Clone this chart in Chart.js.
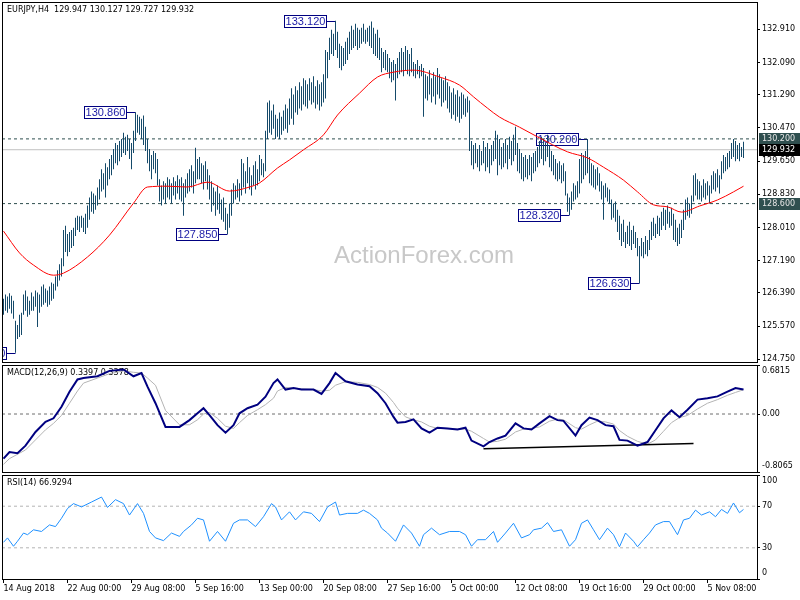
<!DOCTYPE html>
<html>
<head>
<meta charset="utf-8">
<script src="https://cdn.jsdelivr.net/npm/chart.js@4.4.1/dist/chart.umd.min.js"></script>
<style>
  body { margin: 0; background: #fff; }
  #wrap { position: relative; width: 800px; height: 600px; }
  canvas { position: absolute; left: 0; }
</style>
</head>
<body>
<div id="wrap">
  <canvas id="price" width="800" height="364" style="top:0px"></canvas>
  <canvas id="macd" width="800" height="110" style="top:364px"></canvas>
  <canvas id="rsi" width="800" height="127" style="top:473px"></canvas>
</div>
<script>
const symbolCaption = 'EURJPY,H4  129.947 130.127 129.727 129.932';
const macdCaption = 'MACD(12,26,9) 0.3397 0.3378';
const rsiCaption = 'RSI(14) 66.9294';

// H4 bars, one per 4 hours
const barHigh = [
  126.25, 126.35, 126.30, 126.38, 126.32, 126.20, 125.70, 125.60, 125.85, 125.90,
  126.35, 126.45, 126.30, 126.20, 126.40, 126.30, 126.45, 126.40, 126.35, 126.55,
  126.60, 126.50, 126.45, 126.55, 126.65, 126.62, 126.80, 126.95, 127.10, 127.25,
  127.95, 128.05, 127.85, 127.90, 127.95, 128.00, 128.25, 128.30, 128.28, 128.30,
  128.25, 128.35, 128.55, 128.75, 128.90, 128.85, 128.80, 129.00, 129.20, 129.45,
  129.35, 129.60, 129.50, 129.70, 129.80, 129.95, 130.10, 130.05, 130.15, 130.20,
  130.35, 130.25, 130.30, 130.20, 130.10, 130.40, 130.86, 130.80, 130.75, 130.70,
  130.78, 130.50, 130.20, 129.95, 129.80, 129.90, 129.85, 129.70, 129.20, 129.05,
  129.15, 129.10, 129.25, 129.20, 129.10, 129.25, 129.15, 129.30, 129.20, 129.25,
  129.10, 129.20, 129.35, 129.45, 129.55, 129.40, 129.98, 129.70, 129.75, 129.60,
  129.55, 129.65, 129.45, 129.30, 129.15, 129.00, 128.90, 129.05, 128.85, 128.70,
  128.75, 128.50, 128.35, 128.60, 128.95, 129.10, 129.05, 129.20, 129.10, 129.70,
  129.60, 129.40, 129.75, 129.50, 129.30, 129.55, 129.65, 129.45, 129.80, 129.70,
  129.60, 130.40, 131.10, 131.15, 130.90, 131.05, 130.80, 130.70, 130.85, 130.75,
  130.90, 131.05, 130.95, 131.20, 131.45, 131.30, 131.50, 131.40, 131.60, 131.50,
  131.70, 131.65, 131.55, 131.70, 131.60, 131.75, 131.50, 131.65, 131.55, 131.60,
  131.80, 132.40, 132.35, 132.70, 132.90, 132.80, 133.12, 132.85, 132.55, 132.50,
  132.45, 132.60, 132.70, 132.85, 133.00, 132.90, 133.05, 132.95, 132.90, 132.95,
  133.05, 132.90, 132.95, 133.00, 133.10, 132.95, 132.80, 132.90, 132.70, 132.45,
  132.35, 132.40, 132.30, 132.20, 132.10, 132.15, 132.05, 132.20, 132.35, 132.45,
  132.35, 132.50, 132.40, 132.30, 132.45, 132.10, 132.05, 132.15, 132.00, 132.05,
  131.95, 131.80, 131.75, 131.90, 131.70, 131.85, 131.75, 131.95, 131.80, 131.70,
  131.65, 131.75, 131.60, 131.50, 131.35, 131.45, 131.30, 131.40, 131.25, 131.35,
  131.30, 131.20, 131.25, 131.15, 130.15, 130.05, 130.10, 129.95, 130.05, 129.90,
  130.15, 130.00, 130.10, 129.95, 130.05, 130.15, 130.40, 130.30, 130.20, 130.00,
  130.10, 130.20, 130.05, 130.25, 130.15, 130.30, 130.50, 130.10, 129.95, 129.85,
  129.75, 129.80, 129.70, 129.80, 129.75, 129.85, 129.90, 130.00, 130.15, 130.25,
  130.20, 130.10, 130.30, 130.05, 129.90, 129.80, 129.70, 129.60, 129.65, 129.55,
  129.60, 129.40, 128.85, 128.75, 128.90, 129.10, 129.05, 129.15, 129.70, 129.85,
  129.80, 129.90, 130.20, 129.75, 129.60, 129.55, 129.45, 129.50, 129.35, 129.15,
  129.05, 129.10, 129.00, 128.95, 128.70, 128.60, 128.65, 128.45, 128.30, 128.10,
  128.20, 127.90, 128.05, 128.15, 127.95, 128.05, 127.90, 127.75, 127.55, 127.75,
  127.65, 127.80, 127.70, 127.95, 128.15, 128.25, 128.10, 128.30, 128.25, 128.40,
  128.50, 128.45, 128.55, 128.40, 128.50, 128.35, 128.20, 128.00, 128.10, 128.20,
  128.45, 128.70, 128.75, 128.60, 128.80, 129.30, 129.35, 129.20, 129.15, 129.05,
  129.20, 129.10, 129.15, 129.05, 129.30, 129.40, 129.35, 129.45, 129.30, 129.65,
  129.80, 129.75, 129.85, 129.90, 130.10, 130.20, 130.15, 130.05, 130.10, 130.00,
  130.13
];
const barLow = [
  125.85, 125.95, 125.90, 126.00, 125.88, 125.75, 124.91, 125.25, 125.30, 125.35,
  125.85, 125.95, 125.80, 125.85, 125.95, 125.95, 126.05, 125.55, 125.90, 126.05,
  126.10, 126.15, 126.05, 126.10, 126.20, 126.25, 126.45, 126.55, 126.70, 126.80,
  127.05, 127.40, 127.30, 127.40, 127.50, 127.55, 127.80, 127.95, 127.90, 128.00,
  127.90, 127.85, 128.00, 128.20, 128.40, 128.35, 128.45, 128.55, 128.70, 128.90,
  128.95, 128.75, 129.05, 129.20, 129.30, 129.45, 129.60, 129.55, 129.65, 129.75,
  129.85, 129.80, 129.90, 129.70, 129.45, 129.85, 130.15, 130.35, 130.30, 130.20,
  130.05, 129.90, 129.60, 129.40, 129.20, 129.45, 129.35, 129.05, 128.65, 128.55,
  128.70, 128.60, 128.75, 128.70, 128.60, 128.80, 128.70, 128.85, 128.70, 128.65,
  128.30, 128.75, 128.85, 128.90, 129.00, 128.85, 129.10, 129.20, 129.20, 129.10,
  128.95, 129.15, 128.95, 128.70, 128.40, 128.55, 128.30, 128.45, 128.35, 128.20,
  128.15, 127.95, 127.85, 128.00, 128.30, 128.60, 128.70, 128.75, 128.65, 128.80,
  129.00, 128.85, 129.10, 128.95, 128.80, 129.05, 128.95, 129.05, 129.15, 129.30,
  129.25, 129.40, 130.20, 130.35, 130.30, 130.45, 130.20, 130.25, 130.20, 130.30,
  130.40, 130.45, 130.35, 130.55, 130.70, 130.55, 130.85, 130.80, 130.95, 130.90,
  131.05, 131.00, 130.95, 131.15, 131.05, 131.10, 130.95, 131.05, 130.90, 131.00,
  131.10, 131.20, 131.70, 132.15, 132.30, 132.25, 132.40, 132.20, 131.95, 131.90,
  132.00, 132.05, 132.15, 132.30, 132.40, 132.45, 132.50, 132.40, 132.45, 132.55,
  132.60, 132.55, 132.60, 132.50, 132.45, 132.30, 132.25, 132.20, 132.15, 131.85,
  131.95, 131.90, 131.85, 131.70, 131.60, 131.65, 131.15, 131.70, 131.80, 131.85,
  131.75, 131.90, 131.80, 131.75, 131.85, 131.75, 131.70, 131.80, 131.70, 131.75,
  130.75, 131.20, 131.15, 131.30, 131.10, 131.25, 131.05, 131.30, 131.20, 131.00,
  131.10, 131.15, 130.95, 130.85, 130.70, 130.80, 130.65, 130.75, 130.60, 130.70,
  130.80, 130.75, 130.85, 129.90, 129.55, 129.45, 129.60, 129.50, 129.40, 129.55,
  129.60, 129.40, 129.50, 129.35, 129.55, 129.65, 129.70, 129.30, 129.55, 129.45,
  129.50, 129.60, 129.45, 129.70, 129.55, 129.65, 129.80, 129.40, 129.35, 129.20,
  129.15, 129.25, 129.20, 129.30, 129.15, 129.35, 129.40, 129.50, 129.60, 129.70,
  129.55, 129.65, 129.75, 129.50, 129.40, 129.30, 129.20, 129.15, 129.20, 129.10,
  129.15, 128.80, 128.40, 128.32, 128.45, 128.65, 128.70, 128.75, 128.85, 129.10,
  129.20, 129.30, 129.35, 129.10, 129.05, 129.00, 128.95, 129.05, 128.90, 128.70,
  128.20, 128.75, 128.65, 128.60, 128.20, 128.25, 128.15, 127.90, 127.70, 127.55,
  127.65, 127.50, 127.60, 127.55, 127.45, 127.60, 127.50, 127.30, 126.63, 127.30,
  127.25, 127.35, 127.30, 127.45, 127.70, 127.80, 127.75, 127.85, 127.80, 127.95,
  128.05, 127.95, 128.10, 128.00, 128.05, 127.70, 127.65, 127.55, 127.60, 127.75,
  127.95, 128.20, 128.30, 128.25, 128.35, 128.65, 128.80, 128.70, 128.70, 128.65,
  128.75, 128.70, 128.80, 128.60, 128.85, 128.95, 128.90, 129.00, 128.85, 129.20,
  129.35, 129.40, 129.45, 129.50, 129.70, 129.75, 129.65, 129.70, 129.65, 129.75,
  129.73
];

// red moving average, sampled at bar numbers
const maBar = [0, 8, 15, 25, 30, 42, 53, 65, 72, 82, 92, 102, 113, 123, 128, 137, 143, 150, 160, 167,
  178, 187, 195, 205, 218, 228, 235, 242, 248, 258, 267, 282, 292, 300, 310, 317, 325, 332, 339, 348,
  357, 365, 370];
const maValue = [127.92, 127.38, 127.08, 126.83, 126.88, 127.28, 127.82, 128.61, 129.01, 129.03,
  129.01, 129.13, 128.91, 129.01, 129.11, 129.48, 129.68, 129.93, 130.30, 130.79,
  131.33, 131.73, 131.85, 131.90, 131.73, 131.53, 131.24, 130.96, 130.74, 130.49,
  130.25, 129.88, 129.73, 129.50, 129.18, 128.89, 128.57, 128.52, 128.39, 128.54,
  128.69, 128.89, 129.03];

const macdBar = [0, 3, 7, 11, 16, 21, 25, 29, 33, 37, 40, 47, 53, 60, 65, 69, 72, 76, 81, 88,
  93, 97, 100, 103, 107, 111, 115, 118, 122, 127, 131, 135, 137, 141, 145, 149, 155, 159, 163, 166,
  171, 177, 183, 187, 191, 195, 197, 201, 205, 209, 213, 217, 222, 227, 231, 234, 240, 243, 247, 251,
  256, 260, 264, 268, 273, 277, 280, 286, 289, 293, 297, 301, 305, 308, 312, 317, 322, 326, 330, 334,
  338, 342, 347, 352, 357, 362, 366, 370];
const macdMain = [-0.62, -0.53, -0.545, -0.44, -0.25, -0.11, -0.06, 0.10, 0.31, 0.48,
  0.50, 0.525, 0.60, 0.62, 0.525, 0.57, 0.38, 0.15, -0.18, -0.18,
  -0.085, 0.01, 0.08, -0.015, -0.155, -0.26, -0.155, 0.01, 0.08, 0.13,
  0.24, 0.43, 0.48, 0.34, 0.36, 0.34, 0.34, 0.28, 0.43, 0.57,
  0.455, 0.41, 0.385, 0.29, 0.15, -0.04, -0.12, -0.11, -0.075, -0.20,
  -0.26, -0.19, -0.20, -0.215, -0.19, -0.37, -0.45, -0.39, -0.34, -0.30,
  -0.13, -0.20, -0.215, -0.13, -0.03, -0.085, -0.095, -0.30, -0.155, -0.05,
  -0.085, -0.155, -0.17, -0.36, -0.37, -0.44, -0.39, -0.225, -0.06, 0.05,
  -0.045, 0.06, 0.20, 0.22, 0.245, 0.31, 0.36, 0.3397];
const macdSignal = [-0.70, -0.62, -0.56, -0.50, -0.36, -0.22, -0.13, -0.02, 0.15, 0.32,
  0.43, 0.50, 0.56, 0.60, 0.58, 0.57, 0.50, 0.40, 0.05, -0.15,
  -0.15, -0.08, 0.00, 0.02, -0.06, -0.17, -0.20, -0.12, -0.02, 0.06,
  0.13, 0.22, 0.32, 0.37, 0.36, 0.35, 0.34, 0.32, 0.33, 0.40,
  0.45, 0.44, 0.41, 0.37, 0.29, 0.16, 0.08, -0.04, -0.08, -0.11,
  -0.17, -0.20, -0.20, -0.21, -0.21, -0.24, -0.34, -0.39, -0.38, -0.35,
  -0.25, -0.21, -0.20, -0.18, -0.10, -0.07, -0.08, -0.19, -0.21, -0.15,
  -0.10, -0.11, -0.14, -0.23, -0.31, -0.38, -0.42, -0.36, -0.24, -0.12,
  -0.05, -0.02, 0.07, 0.15, 0.20, 0.26, 0.30, 0.3378];
const macdTrendBar = [240, 345];
const macdTrendValue = [-0.483, -0.41];

const rsiBar = [0, 2, 5, 7, 10, 12, 15, 19, 23, 26, 29, 32, 35, 39, 44, 49, 52, 56, 60, 63,
  67, 70, 73, 76, 80, 84, 88, 90, 94, 97, 100, 103, 107, 111, 115, 118, 122, 126, 130, 134,
  136, 139, 143, 146, 150, 154, 158, 162, 166, 168, 172, 177, 180, 183, 187, 189, 192, 196, 200, 204,
  208, 210, 214, 218, 223, 228, 231, 234, 237, 241, 245, 247, 251, 255, 259, 263, 265, 269, 272, 275,
  279, 283, 286, 289, 292, 295, 298, 302, 305, 308, 311, 315, 317, 320, 323, 326, 330, 333, 337, 340,
  343, 346, 349, 353, 356, 359, 362, 365, 368, 370];
const rsiValue = [35.3, 39.5, 31.5, 36.3, 44.2, 42.6, 47.3, 45.7, 52.0, 50.4,
  58.4, 67.8, 72.5, 69.3, 74.0, 78.8, 68.8, 76.3, 72.5, 61.5,
  72.5, 63.1, 45.7, 39.5, 36.9, 44.2, 41.0, 45.7, 52.0, 58.4,
  56.8, 36.3, 45.7, 36.3, 53.6, 56.8, 56.8, 50.4, 59.9, 72.5,
  69.3, 56.8, 64.6, 56.8, 64.6, 63.1, 55.2, 69.3, 74.0, 61.5,
  63.1, 63.1, 66.2, 63.1, 56.8, 48.9, 44.2, 36.3, 52.0, 44.2,
  31.5, 42.6, 48.9, 42.6, 45.7, 45.7, 42.6, 31.5, 37.8, 37.8,
  45.7, 35.3, 44.2, 53.6, 39.5, 42.6, 47.3, 48.9, 54.2, 45.7,
  47.3, 31.5, 37.8, 53.6, 56.8, 47.3, 37.8, 48.9, 42.6, 31.0,
  44.2, 36.3, 31.0, 37.8, 44.2, 52.0, 55.2, 55.2, 42.6, 56.8,
  58.4, 66.2, 61.5, 64.6, 59.9, 66.9, 63.1, 73.1, 63.7, 66.93];
const rsiLevels = [70, 30];

const priceTicks = [132.910, 132.090, 131.290, 130.470, 129.650, 128.830, 128.010, 127.190, 126.390, 125.570, 124.750];
const dashedLevels = [130.200, 128.600];
const lastPrice = 129.932;

const labelBar = [6, 66, 112, 166, 283, 292, 318];
const labelPrice = [124.910, 130.860, 127.850, 133.120, 128.320, 130.200, 126.630];

const timeTickBar = [0, 32, 64, 96, 128, 160, 192, 224, 256, 288, 320, 352];
const timeTickText = ['14 Aug 2018', '22 Aug 00:00', '29 Aug 08:00', '5 Sep 16:00', '13 Sep 00:00', '20 Sep 08:00',
  '27 Sep 16:00', '5 Oct 00:00', '12 Oct 08:00', '19 Oct 16:00', '29 Oct 00:00', '5 Nov 08:00'];

const X_MIN = -0.75;
const X_MAX = 376.75;

Chart.defaults.font.family = '"DejaVu Sans", sans-serif';
Chart.defaults.font.size = 8;
Chart.defaults.color = '#000';
Chart.defaults.animation = false;

function points(xs, ys) {
  return xs.map((x, i) => ({ x: x, y: ys[i] }));
}
function flat(v) {
  return [{ x: X_MIN, y: v }, { x: X_MAX, y: v }];
}

function timeAxis(show) {
  return {
    type: 'linear', min: X_MIN, max: X_MAX, display: show, offset: false,
    afterBuildTicks: s => { s.ticks = timeTickBar.map(v => ({ value: v })); },
    afterFit: s => {
      s.height = show ? 21 : 0;
      s.paddingLeft = 0;
      s.paddingRight = 0;
    },
    grid: { drawOnChartArea: false, drawTicks: true, tickLength: 4, color: '#000' },
    border: { display: false },
    ticks: {
      autoSkip: false, maxRotation: 0, align: 'start', padding: 1,
      callback: v => timeTickText[timeTickBar.indexOf(v)]
    }
  };
}

function valueAxis(min, max, tickValues, fmt) {
  return {
    type: 'linear', position: 'right', min: min, max: max,
    afterBuildTicks: s => { s.ticks = tickValues.map(v => ({ value: v })); },
    afterFit: s => { s.width = 43; s.paddingTop = 0; s.paddingBottom = 0; },
    grid: { drawOnChartArea: false, drawTicks: true, tickLength: 3, color: '#000' },
    border: { display: false },
    ticks: { autoSkip: false, padding: 2, font: { lineHeight: 1.6 }, callback: fmt }
  };
}

// MT4 puts the top and bottom labels inside the window
function edgeFormat(min, max, digits) {
  return v => {
    const t = v === 0 ? '0.00' : v.toFixed(digits);
    if (v === max) return ['', t];
    if (v === min) return [t, ''];
    return t;
  };
}

const panelFrame = {
  id: 'panelFrame',
  beforeDatasetsDraw: (chart, args, opts) => {
    const { ctx, chartArea: { left, top } } = chart;
    ctx.save();
    if (opts.watermark) {
      ctx.font = '24px "Liberation Sans"';
      ctx.fillStyle = '#c8c8c8';
      ctx.textAlign = 'center';
      ctx.textBaseline = 'middle';
      ctx.fillText(opts.watermark, 424, 256);
    }
    if (opts.caption) {
      ctx.font = '8px "DejaVu Sans"';
      ctx.fillStyle = '#000';
      ctx.textAlign = 'left';
      ctx.textBaseline = 'middle';
      ctx.fillText(opts.caption, left + 5, top + 8);
    }
    ctx.restore();
  },
  afterDraw: (chart) => {
    const { ctx, chartArea: { left, top, right, bottom } } = chart;
    ctx.save();
    ctx.strokeStyle = '#000';
    ctx.lineWidth = 1;
    ctx.strokeRect(left + 0.5, top + 0.5, right - left, bottom - top);
    ctx.restore();
  }
};

const priceLabels = {
  id: 'priceLabels',
  beforeDatasetsDraw: (chart) => {
    const { ctx, chartArea: { left, top, right, bottom }, scales: { x, y } } = chart;
    ctx.save();
    ctx.beginPath();
    ctx.rect(left, top, right - left, bottom - top);
    ctx.clip();
    ctx.font = '11px "Liberation Sans"';
    ctx.textAlign = 'center';
    ctx.textBaseline = 'middle';
    ctx.lineWidth = 1;
    labelBar.forEach((bar, i) => {
      const px = x.getPixelForValue(bar);
      const py = Math.round(y.getPixelForValue(labelPrice[i])) + 0.5;
      const bx = Math.round(px - 9 - 43);
      ctx.strokeStyle = '#000080';
      ctx.beginPath();
      ctx.moveTo(bx + 43, py);
      ctx.lineTo(px, py);
      ctx.stroke();
      ctx.fillStyle = '#fff';
      ctx.fillRect(bx, py - 6.5, 43, 13);
      ctx.strokeRect(bx + 0.5, py - 6, 42, 12);
      ctx.fillStyle = '#1a1aa6';
      ctx.fillText(labelPrice[i].toFixed(3), bx + 21.5, py + 0.5);
    });
    ctx.restore();
  },
  afterDraw: (chart) => {
    const { ctx, chartArea: { right }, scales: { y } } = chart;
    const tags = dashedLevels.map(v => [v, '#2f4f4f', '#e6e6e6']).concat([[lastPrice, '#000', '#fff']]);
    ctx.save();
    ctx.font = '8px "DejaVu Sans"';
    ctx.textAlign = 'left';
    ctx.textBaseline = 'middle';
    tags.forEach(([v, bg, fg]) => {
      const py = Math.round(y.getPixelForValue(v));
      ctx.fillStyle = bg;
      ctx.fillRect(right + 2, py - 6, 800 - right - 2, 12);
      ctx.fillStyle = fg;
      ctx.fillText(v.toFixed(3), right + 5, py);
    });
    ctx.restore();
  }
};

const quiet = { legend: { display: false }, tooltip: { enabled: false } };

new Chart(document.getElementById('price'), {
  type: 'line',
  data: {
    datasets: [
      {
        type: 'bar',
        data: barHigh.map((h, i) => ({ x: i, y: [barLow[i], h] })),
        backgroundColor: '#154a6a',
        barThickness: 1,
        inflateAmount: 0,
        borderWidth: 0,
        order: 1
      },
      {
        data: points(maBar, maValue),
        borderColor: '#ff0000',
        borderWidth: 1,
        cubicInterpolationMode: 'monotone',
        order: 0
      },
      ...dashedLevels.map(v => ({
        data: flat(v), borderColor: '#2f4f4f', borderWidth: 1, borderDash: [3, 3], order: 2
      })),
      { data: flat(lastPrice), borderColor: '#c0c0c0', borderWidth: 1, order: 2 }
    ]
  },
  options: {
    responsive: false,
    devicePixelRatio: 1,
    layout: { padding: { left: 2, top: 2, bottom: 2, right: 0 } },
    elements: { point: { radius: 0 } },
    scales: {
      x: timeAxis(false),
      y: valueAxis(124.683, 133.585, priceTicks, v => v.toFixed(3))
    },
    plugins: { ...quiet, panelFrame: { caption: symbolCaption, watermark: 'ActionForex.com' } }
  },
  plugins: [panelFrame, priceLabels]
});

new Chart(document.getElementById('macd'), {
  type: 'line',
  data: {
    datasets: [
      { data: points(macdBar, macdMain), borderColor: '#000080', borderWidth: 2, order: 0 },
      { data: points(macdBar, macdSignal), borderColor: '#b4b4b4', borderWidth: 1, order: 1 },
      { data: points(macdTrendBar, macdTrendValue), borderColor: '#000', borderWidth: 1.5, order: 0 },
      { data: flat(0), borderColor: '#6e6e6e', borderWidth: 1, borderDash: [3, 3], order: 2 }
    ]
  },
  options: {
    responsive: false,
    devicePixelRatio: 1,
    layout: { padding: { left: 2, top: 1, bottom: 2, right: 0 } },
    elements: { point: { radius: 0 } },
    scales: {
      x: timeAxis(false),
      y: valueAxis(-0.8065, 0.6815, [0.6815, 0, -0.8065], edgeFormat(-0.8065, 0.6815, 4))
    },
    plugins: { ...quiet, panelFrame: { caption: macdCaption } }
  },
  plugins: [panelFrame]
});

new Chart(document.getElementById('rsi'), {
  type: 'line',
  data: {
    datasets: [
      { data: points(rsiBar, rsiValue), borderColor: '#1e90ff', borderWidth: 1, order: 0 },
      ...rsiLevels.map(v => ({
        data: flat(v), borderColor: '#b4b4b4', borderWidth: 1, borderDash: [3, 3], order: 1
      }))
    ]
  },
  options: {
    responsive: false,
    devicePixelRatio: 1,
    layout: { padding: { left: 2, top: 2, bottom: 0, right: 0 } },
    elements: { point: { radius: 0 } },
    scales: {
      x: timeAxis(true),
      y: valueAxis(0, 100, [100, 70, 30, 0], v => v === 100 ? ['', '100'] : v === 0 ? ['0', ''] : String(v))
    },
    plugins: { ...quiet, panelFrame: { caption: rsiCaption } }
  },
  plugins: [panelFrame]
});
</script>
</body>
</html>
